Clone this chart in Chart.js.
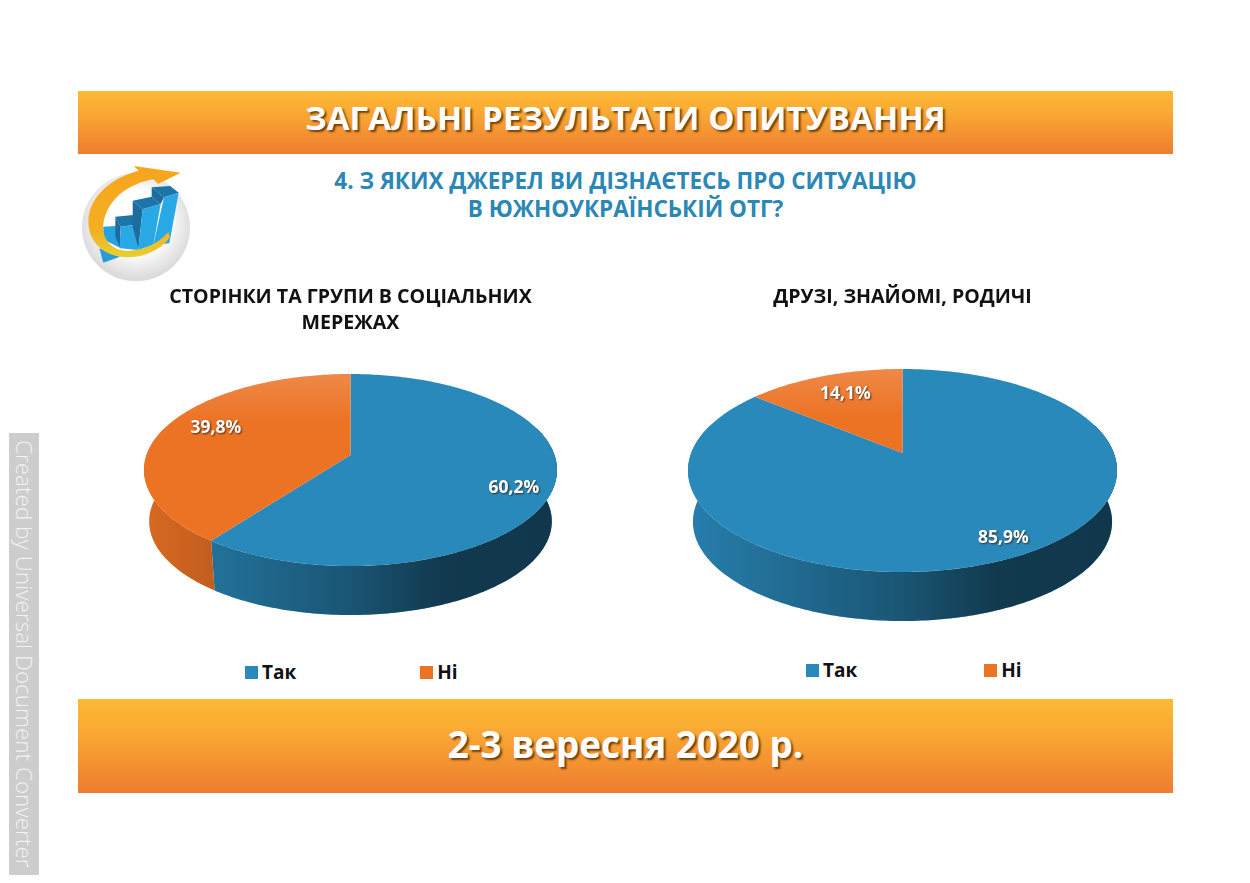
<!DOCTYPE html>
<html lang="uk">
<head>
<meta charset="utf-8">
<title>Загальні результати опитування</title>
<script src="https://cdn.jsdelivr.net/npm/chart.js@4"></script>
<style>
  html, body { margin: 0; padding: 0; background: #fff; }
  body { position: relative; width: 1250px; height: 883px; overflow: hidden; font-family: "Open Sans", sans-serif; }
  .banner {
    position: absolute; left: 78px; width: 1095px; text-align: center; color: #fff; font-weight: 700;
    background: linear-gradient(#fdb935 0%, #f9a933 35%, #ee7c2f 100%);
    text-shadow: 2px 2px 2px rgba(70, 35, 0, .75);
  }
  #topBanner { top: 91px; height: 63px; line-height: 54px; font-size: 33px; letter-spacing: .12px; }
  #bottomBanner { top: 699px; height: 94px; line-height: 90px; font-size: 36.8px; }
  #question {
    position: absolute; left: 78px; width: 1095px; top: 167px; text-align: center;
    color: #2b87b5; font-weight: 700; font-size: 22.5px; line-height: 28px;
  }
  #watermark {
    position: absolute; left: 9px; top: 433px; width: 30px; height: 442px; background: #cdcdcd; color: #f2f2f2;
    writing-mode: vertical-rl; font-size: 22.5px; font-weight: 300; line-height: 30px; text-align: center; white-space: nowrap;
  }
  #logo { position: absolute; left: 70px; top: 80px; width: 300px; height: 210px; }
  canvas { position: absolute; top: 280px; }
  #socialChart { left: 62px; }
  #friendsChart { left: 641px; }
  .legend { position: absolute; display: flex; font-weight: 700; font-size: 19px; color: #111; line-height: 24px; white-space: nowrap; }
  .legend i { display: inline-block; width: 13px; height: 13px; margin: 6px 4px 0 0; }
  #socialLegend { left: 245px; top: 660px; }
  #socialLegend span + span { margin-left: 124px; }
  #friendsLegend { left: 806px; top: 658px; }
  #friendsLegend span + span { margin-left: 127px; }
  .legend span { display: flex; }
</style>
</head>
<body>
<div class="banner" id="topBanner">ЗАГАЛЬНІ РЕЗУЛЬТАТИ ОПИТУВАННЯ</div>
<div id="question">4. З ЯКИХ ДЖЕРЕЛ ВИ ДІЗНАЄТЕСЬ ПРО СИТУАЦІЮ<br>В ЮЖНОУКРАЇНСЬКІЙ ОТГ?</div>

<svg id="logo" viewBox="0 0 900 630">
  <defs>
    <radialGradient id="ball" cx="50%" cy="45%" r="52%">
      <stop offset="0.55" stop-color="#ffffff"/>
      <stop offset="1" stop-color="#dcdcdc"/>
    </radialGradient>
    <linearGradient id="ring" x1="0" y1="0" x2="0" y2="1">
      <stop offset="0" stop-color="#f7a41d"/>
      <stop offset="0.7" stop-color="#f4b021"/>
      <stop offset="1" stop-color="#e6d032"/>
    </linearGradient>
  </defs>
  <circle cx="198" cy="442" r="162" fill="url(#ball)"/>
  <polygon points="88,505 150,530 100,548" fill="#2a9bd8"/>
  <polygon points="100,440 135,438 152,470 152,505 100,478" fill="#25a3e0"/>
  <polygon points="136,410 190,405 212,432 152,440" fill="#1c74a8"/>
  <polygon points="136,410 152,440 150,500 136,470" fill="#1c6c9e"/>
  <polygon points="152,440 212,432 205,510 150,505" fill="#29a8e6"/>
  <polygon points="188,362 245,350 272,372 218,388" fill="#1c74a8"/>
  <polygon points="188,362 218,388 205,505 188,440" fill="#1c6c9e"/>
  <polygon points="218,388 272,372 250,495 205,510" fill="#29a8e6"/>
  <polygon points="245,322 300,318 326,338 282,352" fill="#1c74a8"/>
  <polygon points="245,322 282,352 272,372 245,350" fill="#1c6c9e"/>
  <polygon points="282,352 326,338 298,490 250,495" fill="#29a8e6"/>
  <path d="M332 278 L192 258 L206 272 C110 298 55 360 55 425 C55 492 112 532 172 532 C224 532 272 510 300 472 L295 456 C260 496 215 512 170 512 C122 512 94 472 100 432 C110 362 170 312 250 298 L264 312 Z" fill="url(#ring)"/>
</svg>

<canvas id="socialChart" width="579" height="335"></canvas>
<canvas id="friendsChart" width="523" height="341"></canvas>
<div class="legend" id="socialLegend"></div>
<div class="legend" id="friendsLegend"></div>

<div class="banner" id="bottomBanner">2-3 вересня 2020 р.</div>
<div id="watermark">Created by Universal Document Converter</div>

<script>
const answers = ['Так', 'Ні'];
const socialValues = [60.2, 39.8];
const friendsValues = [85.9, 14.1];
const socialTitle = ['СТОРІНКИ ТА ГРУПИ В СОЦІАЛЬНИХ', 'МЕРЕЖАХ'];
const friendsTitle = ['ДРУЗІ, ЗНАЙОМІ, РОДИЧІ'];

const answerColors = ['#2a89bb', '#ec7224'];
const fontName = '"Open Sans", sans-serif';

// Chart.js pies are flat circles, so this plugin takes over drawing and projects
// the arc elements the controller worked out onto a tilted disc
const tiltedPie = {
    id: 'tiltedPie',
    beforeDatasetDraw(chart, args, opts) {
        const ctx = chart.ctx;
        const area = chart.chartArea;
        const arcs = chart.getDatasetMeta(0).data;
        const values = chart.data.datasets[0].data;

        const cx = (area.left + area.right) / 2;
        const rx = (area.right - area.left) / 2;
        const p = opts.perspective;
        const faceHeight = area.bottom - area.top - opts.depth;
        const a = faceHeight * (1 - p * p) / 2;
        const b = rx * Math.sqrt(1 - p * p);
        const vertexY = area.top + a / (1 + p);
        const baseY = area.bottom - opts.baseScale * a / (1 - p);

        // r = 1 is the rim of the disc, angle as in the arc element
        const topPoint = (angle, r) => {
            const w = 1 - p * r * Math.sin(angle);
            return [cx + b * r * Math.cos(angle) / w, vertexY + a * r * Math.sin(angle) / w];
        };
        const basePoint = (angle) => {
            const w = 1 - p * Math.sin(angle);
            return [cx + opts.baseScale * b * Math.cos(angle) / w, baseY + opts.baseScale * a * Math.sin(angle) / w];
        };
        const anglesBetween = (from, to) => {
            const steps = Math.max(2, Math.ceil((to - from) * 60));
            return Array.from({ length: steps + 1 }, (_, i) => from + (to - from) * i / steps);
        };

        ctx.save();

        // side wall, only the part that faces the viewer
        const shade = ctx.createLinearGradient(cx - rx, 0, cx + rx, 0);
        shade.addColorStop(0, 'rgba(0, 0, 0, 0.08)');
        shade.addColorStop(0.5, 'rgba(0, 0, 0, 0.38)');
        shade.addColorStop(0.72, 'rgba(0, 0, 0, 0.58)');
        shade.addColorStop(1, 'rgba(0, 0, 0, 0.6)');
        arcs.forEach((arc) => {
            const from = Math.max(arc.startAngle, -0.3);
            const to = Math.min(arc.endAngle, Math.PI + 0.3);
            if (to <= from) return;
            const angles = anglesBetween(from, to);
            ctx.beginPath();
            angles.forEach((t) => ctx.lineTo(...topPoint(t, 1)));
            angles.slice().reverse().forEach((t) => ctx.lineTo(...basePoint(t)));
            ctx.closePath();
            ctx.fillStyle = arc.options.backgroundColor;
            ctx.fill();
            ctx.fillStyle = shade;
            ctx.fill();
        });

        // top face
        arcs.forEach((arc, i) => {
            ctx.beginPath();
            ctx.moveTo(cx, vertexY);
            anglesBetween(arc.startAngle, arc.endAngle).forEach((t) => ctx.lineTo(...topPoint(t, 1)));
            ctx.closePath();
            ctx.fillStyle = arc.options.backgroundColor;
            ctx.fill();
            if (i === opts.sheenIndex) {
                const sheen = ctx.createLinearGradient(0, area.top, 0, area.top + 50);
                sheen.addColorStop(0, 'rgba(255, 255, 255, 0.16)');
                sheen.addColorStop(1, 'rgba(255, 255, 255, 0)');
                ctx.fillStyle = sheen;
                ctx.fill();
            }
        });

        // value labels
        ctx.font = 'bold 17.5px ' + fontName;
        ctx.textAlign = 'center';
        ctx.textBaseline = 'middle';
        arcs.forEach((arc, i) => {
            const place = opts.labelPlaces[i];
            const [x, y] = topPoint((arc.startAngle + arc.endAngle) / 2, place.r);
            const text = String(values[i]).replace('.', ',') + '%';
            ctx.shadowColor = 'rgba(40, 25, 10, 0.8)';
            ctx.shadowBlur = 2;
            ctx.shadowOffsetX = 1;
            ctx.shadowOffsetY = 1;
            ctx.fillStyle = '#fff';
            ctx.fillText(text, x, y + place.dy);
        });

        ctx.restore();
        return false;
    }
};

function makePie(canvasId, values, title, titleBottom, tilt) {
    return new Chart(document.getElementById(canvasId), {
        type: 'pie',
        data: {
            labels: answers,
            datasets: [{ data: values, backgroundColor: answerColors, borderWidth: 0 }]
        },
        plugins: [tiltedPie],
        options: {
            responsive: false,
            animation: false,
            layout: { padding: { left: tilt.sideLeft, right: tilt.sideRight } },
            plugins: {
                legend: { display: false },
                title: {
                    display: true,
                    text: title,
                    color: '#111',
                    font: { family: fontName, size: 19.6, weight: 'bold', lineHeight: 1.327 },
                    padding: { top: 4, bottom: titleBottom }
                },
                tiltedPie: tilt
            }
        }
    });
}

function makeLegend(id) {
    document.getElementById(id).innerHTML = answers
        .map((name, i) => `<span><i style="background:${answerColors[i]}"></i>${name}</span>`)
        .join('');
}

makePie('socialChart', socialValues, socialTitle, 38, {
    sideLeft: 82, sideRight: 84, perspective: 0.156, depth: 49, baseScale: 0.975, sheenIndex: 1,
    labelPlaces: [{ r: 0.81, dy: 8 }, { r: 0.72, dy: -7 }]
});
makePie('friendsChart', friendsValues, friendsTitle, 59, {
    sideLeft: 47, sideRight: 47, perspective: 0.172, depth: 49, baseScale: 0.977, sheenIndex: 1,
    labelPlaces: [{ r: 0.95, dy: -14 }, { r: 0.70, dy: -3 }]
});
makeLegend('socialLegend');
makeLegend('friendsLegend');
</script>
</body>
</html>
